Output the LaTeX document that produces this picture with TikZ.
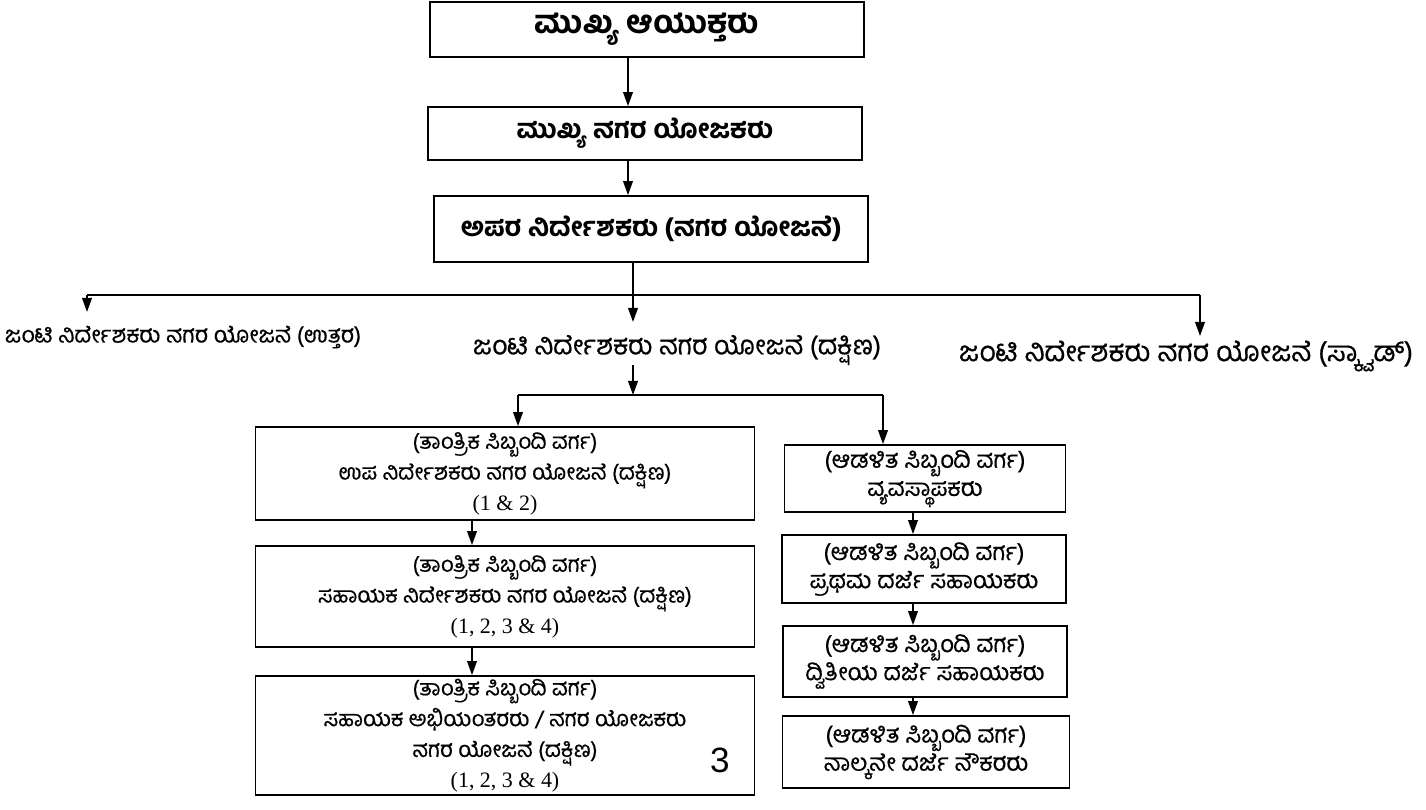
\documentclass[tikz,border=0pt]{standalone}
\usepackage{fontspec}
\setmainfont{Liberation Serif}
\IfFontExistsTF{Lohit Kannada}
  {\newfontfamily\kn[Script=Kannada, FakeBold=0.5]{Lohit Kannada}
   \newfontfamily\knb[Script=Kannada, FakeBold=2.5]{Lohit Kannada}}
  {\IfFontExistsTF{Kedage}
    {\newfontfamily\kn[Script=Kannada, FakeBold=0.5]{Kedage}
     \newfontfamily\knb[Script=Kannada, FakeBold=2.5]{Kedage}}
    {\newfontfamily\kn[Script=Kannada, FakeBold=0.5]{Hind Mysuru}
     \newfontfamily\knb[Script=Kannada]{Hind Mysuru Bold}}}
\newfontfamily\pagefont{Liberation Sans}
\usetikzlibrary{arrows.meta}

\tikzset{
  box/.style={draw, line width=1pt, align=center, inner sep=0pt},
  boxsize/.style 2 args={minimum width=#1*0.2mm, minimum height=#2*0.2mm},
  arr/.style={-{Triangle[length=8pt,width=5.5pt]}, line width=1pt},
  head/.style={font=\knb\fontsize{15}{18}\selectfont},
  joint/.style={font=\kn\fontsize{15}{18}\selectfont, inner sep=0pt},
  staff/.style={font=\kn\fontsize{12.5}{17.5}\selectfont},
  admin/.style={font=\kn\fontsize{13.5}{16}\selectfont},
}

\begin{document}
\begin{tikzpicture}[x=0.2mm, y=-0.2mm]
    \useasboundingbox (0,0) rectangle (1426,809);

    % draw top boxes
    \node[box, font=\knb\fontsize{18}{20}\selectfont, boxsize={434}{55}] (chief) at (647,29.5) {ಮುಖ್ಯ ಆಯುಕ್ತರು};
    \node[box, head, boxsize={434}{53}] (ctp) at (645,133.5) {ಮುಖ್ಯ ನಗರ ಯೋಜಕರು};
    \node[box, head, boxsize={434}{66}] (addl) at (651,229) {ಅಪರ ನಿರ್ದೇಶಕರು (ನಗರ ಯೋಜನೆ)};

    % draw joint directors
    \node[joint, font=\kn\fontsize{13}{16}\selectfont] (jdn) at (183,337) {ಜಂಟಿ ನಿರ್ದೇಶಕರು ನಗರ ಯೋಜನೆ (ಉತ್ತರ)};
    \node[joint] (jds) at (677,350) {ಜಂಟಿ ನಿರ್ದೇಶಕರು ನಗರ ಯೋಜನೆ (ದಕ್ಷಿಣ)};
    \node[joint, font=\kn\fontsize{16}{18}\selectfont] (jdq) at (1186,356) {ಜಂಟಿ ನಿರ್ದೇಶಕರು ನಗರ ಯೋಜನೆ (ಸ್ಕ್ವಾಡ್)};

    % draw technical staff
    \node[box, staff, boxsize={499}{93}] (tech1) at (505,473.5)
      {(ತಾಂತ್ರಿಕ ಸಿಬ್ಬಂದಿ ವರ್ಗ)\\ ಉಪ ನಿರ್ದೇಶಕರು ನಗರ ಯೋಜನೆ (ದಕ್ಷಿಣ)\\ {\rmfamily (1 \& 2)}};
    \node[box, staff, boxsize={499}{101}] (tech2) at (505,596.5)
      {(ತಾಂತ್ರಿಕ ಸಿಬ್ಬಂದಿ ವರ್ಗ)\\ ಸಹಾಯಕ ನಿರ್ದೇಶಕರು ನಗರ ಯೋಜನೆ (ದಕ್ಷಿಣ)\\ {\rmfamily (1, 2, 3 \& 4)}};
    \node[box, staff, boxsize={499}{119}] (tech3) at (505,735.5)
      {(ತಾಂತ್ರಿಕ ಸಿಬ್ಬಂದಿ ವರ್ಗ)\\ ಸಹಾಯಕ ಅಭಿಯಂತರರು / ನಗರ ಯೋಜಕರು\\ ನಗರ ಯೋಜನೆ (ದಕ್ಷಿಣ)\\ {\rmfamily (1, 2, 3 \& 4)}};

    % draw administrative staff
    \node[box, admin, boxsize={281}{67}] (adm1) at (925,478.5)
      {(ಆಡಳಿತ ಸಿಬ್ಬಂದಿ ವರ್ಗ)\\ ವ್ಯವಸ್ಥಾಪಕರು};
    \node[box, admin, boxsize={284}{68}] (adm2) at (924,569)
      {(ಆಡಳಿತ ಸಿಬ್ಬಂದಿ ವರ್ಗ)\\ ಪ್ರಥಮ ದರ್ಜೆ ಸಹಾಯಕರು};
    \node[box, admin, boxsize={284}{71}] (adm3) at (925,661.5)
      {(ಆಡಳಿತ ಸಿಬ್ಬಂದಿ ವರ್ಗ)\\ ದ್ವಿತೀಯ ದರ್ಜೆ ಸಹಾಯಕರು};
    \node[box, admin, boxsize={287}{72}] (adm4) at (926,752)
      {(ಆಡಳಿತ ಸಿಬ್ಬಂದಿ ವರ್ಗ)\\ ನಾಲ್ಕನೇ ದರ್ಜೆ ನೌಕರರು};

    % page number
    \node[font=\pagefont\fontsize{20}{20}\selectfont] (pgno) at (720,760) {3};

    % draw arrows down the top
    \coordinate (ax) at (628,0);
    \draw[arr] (chief.south -| ax) -- (ctp.north -| ax);
    \draw[arr] (ctp.south -| ax) -- (addl.north -| ax);

    % draw branch to joint directors
    \coordinate (bx) at (633,295);
    \coordinate (bl) at (87,295);
    \coordinate (br) at (1200,295);
    \draw[line width=1pt] (addl.south -| bx) -- (bx);
    \draw[line width=1pt] (bl) -- (br);
    \draw[arr] (bl) -- ++(0,17);
    \draw[arr] (bx) -- ++(0,27);
    \draw[arr] (br) -- ++(0,41);

    % draw branch to staff
    \coordinate (sx) at (633,395);
    \coordinate (sl) at (518,395);
    \coordinate (sr) at (883,395);
    \draw[arr] (jds.south -| sx) -- (sx);
    \draw[line width=1pt] (sl) -- (sr);
    \draw[arr] (sl) -- (sl |- tech1.north);
    \draw[arr] (sr) -- (sr |- adm1.north);

    % draw arrows down the columns
    \coordinate (tx) at (472,0);
    \draw[arr] (tech1.south -| tx) -- (tech2.north -| tx);
    \draw[arr] (tech2.south -| tx) -- (tech3.north -| tx);
    \coordinate (mx) at (913,0);
    \draw[arr] (adm1.south -| mx) -- (adm2.north -| mx);
    \draw[arr] (adm2.south -| mx) -- (adm3.north -| mx);
    \draw[arr] (adm3.south -| mx) -- (adm4.north -| mx);
\end{tikzpicture}
\end{document}
